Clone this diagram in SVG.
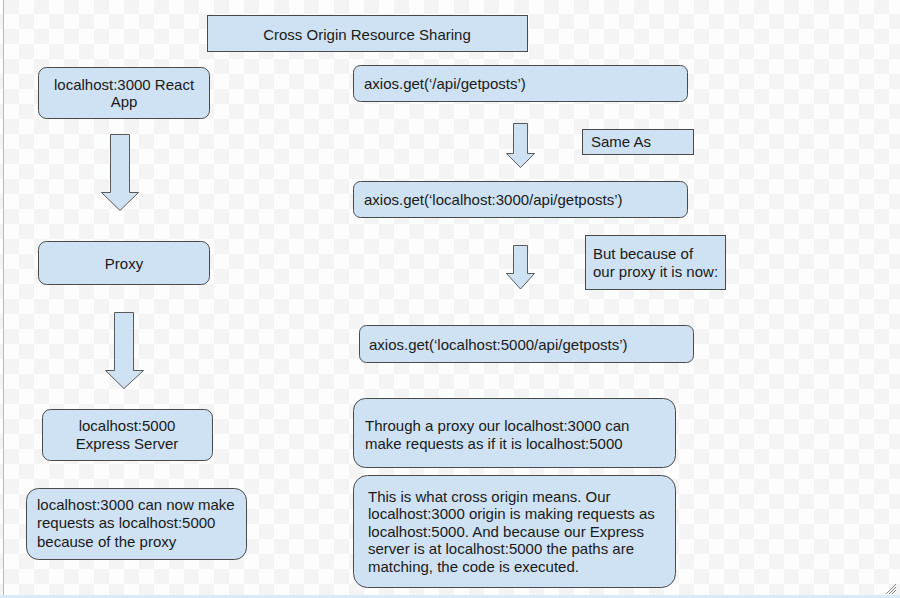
<svg xmlns="http://www.w3.org/2000/svg" width="900" height="598" viewBox="0 0 900 598">
<defs>
<pattern id="chk" x="4" y="-1" width="30" height="30" patternUnits="userSpaceOnUse">
<rect width="30" height="30" fill="#fdfdfd"/>
<rect width="15" height="15" fill="#f4f4f4"/>
<rect x="15" y="15" width="15" height="15" fill="#f4f4f4"/>
</pattern>
<style>
.box{fill:#cfe2f3;stroke:#4a4a4a;stroke-width:1}
.arr{fill:#cfe2f3;stroke:#5a5a5a;stroke-width:1;stroke-linejoin:miter}
text{font-family:"Liberation Sans",Arial,sans-serif;font-size:15px;fill:#1a1a1a}
.c{text-anchor:middle}
</style>
</defs>
<rect width="900" height="598" fill="url(#chk)"/>
<line x1="3.5" y1="0" x2="3.5" y2="598" stroke="#b8b8b8" stroke-width="1"/>
<rect x="0" y="595" width="900" height="3" fill="#dde9f5"/>
<g stroke="#8a8a8a" stroke-width="1">
<line x1="886" y1="594" x2="896" y2="584"/>
<line x1="889" y1="594" x2="896" y2="587"/>
<line x1="892" y1="594" x2="896" y2="590"/>
</g>

<g id="title">
<rect class="box" x="207.5" y="15.5" width="320" height="36"/>
<text class="c" x="367" y="40">Cross Origin Resource Sharing</text>
</g>

<g id="react-app">
<rect class="box" x="38.5" y="67.5" width="171" height="51" rx="8"/>
<text class="c" x="124" y="90">localhost:3000 React</text>
<text class="c" x="124" y="107">App</text>
</g>

<g id="proxy">
<rect class="box" x="38.5" y="241.5" width="171" height="43" rx="8"/>
<text class="c" x="124" y="269">Proxy</text>
</g>

<g id="express-server">
<rect class="box" x="42.5" y="409.5" width="170" height="51" rx="8"/>
<text class="c" x="127" y="431">localhost:5000</text>
<text class="c" x="127" y="449">Express Server</text>
</g>

<g id="note-left">
<rect class="box" x="26.5" y="488.5" width="220" height="71" rx="12"/>
<text x="37" y="510">localhost:3000 can now make</text>
<text x="37" y="528">requests as localhost:5000</text>
<text x="37" y="547">because of the proxy</text>
</g>

<g id="axios-relative">
<rect class="box" x="353.5" y="65.5" width="334" height="36" rx="7"/>
<text x="364" y="89">axios.get(‘/api/getposts’)</text>
</g>

<g id="same-as">
<rect class="box" x="582.5" y="129.5" width="111" height="25"/>
<text x="591" y="147">Same As</text>
</g>

<g id="axios-3000">
<rect class="box" x="353.5" y="181.5" width="334" height="36" rx="7"/>
<text x="364" y="205">axios.get(‘localhost:3000/api/getposts’)</text>
</g>

<g id="because-proxy">
<rect class="box" x="585.5" y="235.5" width="140" height="54"/>
<text x="593" y="259">But because of</text>
<text x="593" y="277">our proxy it is now:</text>
</g>

<g id="axios-5000">
<rect class="box" x="359.5" y="325.5" width="334" height="37" rx="7"/>
<text x="369" y="350">axios.get(‘localhost:5000/api/getposts’)</text>
</g>

<g id="through-proxy">
<rect class="box" x="353.5" y="398.5" width="322" height="69" rx="12"/>
<text x="365" y="431">Through a proxy our localhost:3000 can</text>
<text x="365" y="449">make requests as if it is localhost:5000</text>
</g>

<g id="cross-origin-meaning">
<rect class="box" x="353.5" y="475.5" width="322" height="112" rx="14"/>
<text x="368" y="502">This is what cross origin means. Our</text>
<text x="368" y="519">localhost:3000 origin is making requests as</text>
<text x="368" y="537">localhost:5000. And because our Express</text>
<text x="368" y="554">server is at localhost:5000 the paths are</text>
<text x="368" y="572">matching, the code is executed.</text>
</g>

<g id="connectors">
<polygon class="arr" points="110.5,134.5 129.5,134.5 129.5,192.5 138.5,192.5 120,210.5 101.5,192.5 110.5,192.5"/>
<polygon class="arr" points="114.5,312.5 133.5,312.5 133.5,370.5 143.5,370.5 124,388.5 105.5,370.5 114.5,370.5"/>
<polygon class="arr" points="513.5,123.5 527.5,123.5 527.5,153.5 534.5,153.5 520.5,167.5 506.5,153.5 513.5,153.5"/>
<polygon class="arr" points="513.5,245.5 527.5,245.5 527.5,273.5 534.5,273.5 520.5,289 506.5,273.5 513.5,273.5"/>
</g>
</svg>
